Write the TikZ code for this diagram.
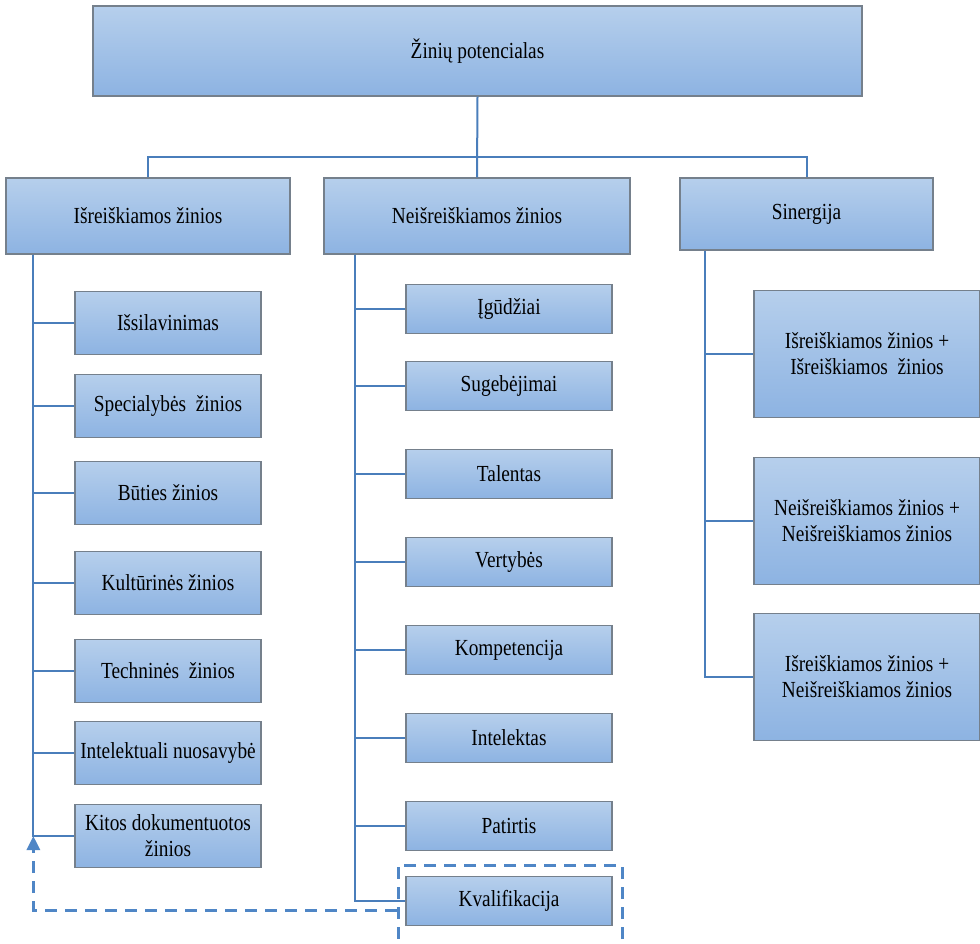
\documentclass[tikz,border=0pt]{standalone}
\usepackage{fontspec}
\setmainfont{Liberation Serif}[FakeStretch=0.84]
\usetikzlibrary{arrows.meta}
\definecolor{boxtop}{HTML}{B6CFEC}
\definecolor{boxbottom}{HTML}{8DB3E2}
\definecolor{boxline}{HTML}{75808C}
\definecolor{linkblue}{HTML}{4A7EBB}
\definecolor{dashblue}{HTML}{4F86C6}
\tikzstyle{box}=[draw=boxline, line width=1.3pt, top color=boxtop, bottom color=boxbottom, align=center, inner sep=0pt]
\tikzstyle{link}=[draw=linkblue, line width=2pt]
\tikzstyle{dashline}=[draw=dashblue, line width=3pt, dash pattern=on 12pt off 8pt]

\begin{document}
\begin{tikzpicture}[x=1pt, y=-1pt, font=\fontsize{23}{26}\selectfont]
	\useasboundingbox (0,0) rectangle (980,944);
	%top
	\node[box, minimum width=769, minimum height=90] (top) at (477.5,51) {Žinių potencialas};
	%headers
	\node[box, minimum width=284, minimum height=76] (isr) at (148,216) {Išreiškiamos žinios};
	\node[box, minimum width=306, minimum height=76] (neis) at (477,216) {Neišreiškiamos žinios};
	\node[box, minimum width=253, minimum height=72] (sin) at (806.5,214) {Sinergija};
	\draw[link] (top.south) -- (neis.north);
	\draw[link] (isr.north) -- ++(0,-20) -| (sin.north);
	%first column
	\foreach \n/\t/\y in {a/Išsilavinimas/323, b/Specialybės~ žinios/406, c/Būties žinios/493,
		d/Kultūrinės žinios/583, e/Techninės~ žinios/671, f/Intelektuali nuosavybė/753,
		g/{Kitos dokumentuotos\\žinios}/836}
	{
		\node[box, minimum width=186, minimum height=63] (isr\n) at (168,\y) {\t};
		\draw[link] ([xshift=28]isr.south west) |- (isr\n.west);
	}
	%second column
	\foreach \n/\t/\y in {a/Įgūdžiai/309, b/Sugebėjimai/386, c/Talentas/474, d/Vertybės/562,
		e/Kompetencija/650, f/Intelektas/738, g/Patirtis/826, h/Kvalifikacija/901}
	{
		\node[box, minimum width=206, minimum height=49] (neis\n) at (509,\y) {\t};
		\draw[link] ([xshift=32]neis.south west) |- (neis\n.west);
	}
	%third column
	\foreach \n/\t/\y in {a/{Išreiškiamos žinios +\\Išreiškiamos~ žinios}/354,
		b/{Neišreiškiamos žinios +\\Neišreiškiamos žinios}/521,
		c/{Išreiškiamos žinios +\\Neišreiškiamos žinios}/677}
	{
		\node[box, minimum width=226, minimum height=127] (sin\n) at (867,\y) {\t};
		\draw[link] ([xshift=26]sin.south west) |- (sin\n.west);
	}
	%feedback
	\node[dashline, minimum width=224, minimum height=90] (dbox) at (510,910) {};
	\coordinate (ret) at ([xshift=28]isr.south west |- isrg.west);
	\draw[dashline, -{Triangle[length=14pt, width=13pt]}] (dbox.west) -| (ret);
\end{tikzpicture}
\end{document}
